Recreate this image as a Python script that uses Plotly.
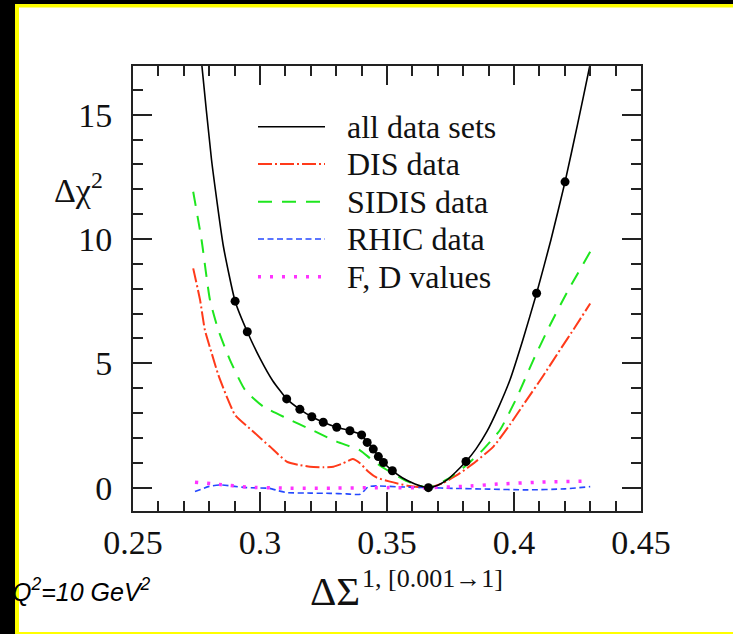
import plotly.graph_objects as go

# ---------------- data ----------------
all_x = [0.2762, 0.2769, 0.2809, 0.2856, 0.2902, 0.2950, 0.3000, 0.3050, 0.3105, 0.3157,
         0.3204, 0.3249, 0.3302, 0.3354, 0.3400, 0.3422, 0.3446, 0.3466, 0.3486, 0.3521,
         0.3560, 0.3610, 0.3663, 0.3700, 0.3735, 0.3770, 0.3811, 0.3850, 0.3893, 0.3940,
         0.3984, 0.4035, 0.4089, 0.4145, 0.4201, 0.4250, 0.4297, 0.4310]
all_y = [18.0, 17.2, 13.2, 9.7, 7.5, 6.27, 5.2, 4.3, 3.57, 3.15,
         2.85, 2.63, 2.43, 2.29, 2.12, 1.82, 1.55, 1.25, 1.01, 0.68,
         0.40, 0.15, 0.0, 0.10, 0.30, 0.62, 1.05, 1.55, 2.25, 3.25,
         4.33, 5.95, 7.82, 9.95, 12.3, 14.6, 16.9, 17.6]

dot_x = [0.2902, 0.2950, 0.3105, 0.3157, 0.3204, 0.3249, 0.3302, 0.3354, 0.3400, 0.3422,
         0.3446, 0.3466, 0.3486, 0.3521, 0.3663, 0.3811, 0.4089, 0.4201]
dot_y = [7.5, 6.27, 3.57, 3.15, 2.85, 2.63, 2.43, 2.29, 2.12, 1.82,
         1.55, 1.25, 1.01, 0.68, 0.0, 1.05, 7.82, 12.3]

dis_x = [0.2737, 0.2764, 0.2783, 0.2810, 0.2836, 0.2869, 0.2902, 0.2974, 0.3039, 0.3105,
         0.3150, 0.3197, 0.3250, 0.3289, 0.3328, 0.3365, 0.3394, 0.3427, 0.3460, 0.3512,
         0.3580, 0.3663, 0.3720, 0.3787, 0.3850, 0.3919, 0.3985, 0.4050, 0.4115, 0.4181,
         0.4240, 0.4300]
dis_y = [8.82, 7.55, 6.34, 5.40, 4.53, 3.66, 2.92, 2.25, 1.65, 1.05,
         0.92, 0.84, 0.82, 0.84, 0.98, 1.15, 0.98, 0.64, 0.40, 0.24,
         0.08, 0.0, 0.18, 0.58, 1.05, 1.65, 2.55, 3.53, 4.50, 5.54,
         6.45, 7.41]

sidis_x = [0.2737, 0.2770, 0.2803, 0.2836, 0.2882, 0.2941, 0.3013, 0.3105, 0.3204, 0.3302,
           0.3394, 0.3433, 0.3470, 0.3512, 0.3580, 0.3663, 0.3740, 0.3814, 0.3880, 0.3945,
           0.4010, 0.4076, 0.4140, 0.4207, 0.4300]
sidis_y = [11.9, 9.96, 7.55, 6.34, 5.13, 3.93, 3.26, 2.79, 2.32, 1.85,
           1.50, 1.18, 0.90, 0.64, 0.25, 0.0, 0.35, 0.91, 1.55, 2.32,
           3.60, 5.13, 6.50, 7.82, 9.49]

rhic_x = [0.2744, 0.2800, 0.2843, 0.2900, 0.2948, 0.3039, 0.3070, 0.3105, 0.3200, 0.3276,
          0.3340, 0.3394, 0.3427, 0.3460, 0.3550, 0.3663, 0.3761, 0.3900, 0.4050, 0.4200,
          0.4300]
rhic_y = [-0.16, 0.05, 0.11, 0.05, 0.0, -0.03, -0.12, -0.2, -0.22, -0.23,
          -0.25, -0.27, 0.04, 0.07, 0.03, 0.0, -0.03, -0.06, -0.09, -0.05,
          0.04]

fd_x = [0.2744, 0.2850, 0.2950, 0.3100, 0.3300, 0.3500, 0.3663, 0.3800, 0.3950, 0.4100, 0.4300]
fd_y = [0.22, 0.12, 0.02, -0.02, -0.02, 0.0, 0.0, 0.05, 0.15, 0.22, 0.26]

series_names = ["all data sets", "DIS data", "SIDIS data", "RHIC data", "F, D values"]

x_tick_vals = [0.25, 0.30, 0.35, 0.40, 0.45]
x_tick_text = ["0.25", "0.3", "0.35", "0.4", "0.45"]
y_tick_vals = [0, 5, 10, 15]
y_tick_text = ["0", "5", "10", "15"]

# ---------------- styles ----------------
W, H = 733, 634
L, R, T, B = 133, 641, 66, 511
SERIF = "Liberation Serif, Times New Roman, serif"

def pxx(p):
    return (p - L) / (R - L)

def pxy(p):
    return (B - p) / (B - T)

styles = [
    dict(color="#000000", width=1.6, dash="solid"),
    dict(color="#ff3a1a", width=2.0, dash="14px,3px,2px,3px"),
    dict(color="#1ee61e", width=2.0, dash="14px,10px"),
    dict(color="#2448ff", width=1.6, dash="6px,3.5px"),
    dict(color="#ff33ff", width=3.5, dash="3px,9px"),
]

fig = go.Figure()
series = [(dis_x, dis_y, 1), (sidis_x, sidis_y, 2), (rhic_x, rhic_y, 3),
          (fd_x, fd_y, 4), (all_x, all_y, 0)]
for xs, ys, k in series:
    fig.add_trace(go.Scatter(x=xs, y=ys, mode="lines", name=series_names[k],
                             line=dict(color=styles[k]["color"], width=styles[k]["width"],
                                       dash=styles[k]["dash"], shape="spline", smoothing=0.5),
                             showlegend=False))
fig.add_trace(go.Scatter(x=dot_x, y=dot_y, mode="markers",
                         marker=dict(color="black", size=9), showlegend=False))

axis_common = dict(showline=True, linecolor="#222", linewidth=2, mirror="allticks",
                   ticks="inside", tickcolor="#222", tickwidth=2, ticklen=19,
                   showgrid=False, zeroline=False,
                   tickfont=dict(family=SERIF, size=34, color="#111"))

fig.update_xaxes(range=[0.25, 0.45], tickvals=x_tick_vals, ticktext=x_tick_text,
                 ticklabelstandoff=0,
                 minor=dict(ticks="inside", ticklen=10, tickwidth=2, tickcolor="#222",
                            dtick=0.01, tick0=0.25, showgrid=False),
                 **axis_common)
fig.update_yaxes(range=[-0.94, 16.96], tickvals=y_tick_vals, ticktext=y_tick_text,
                 ticklabelstandoff=12,
                 minor=dict(ticks="inside", ticklen=10, tickwidth=2, tickcolor="#222",
                            dtick=1, tick0=0, showgrid=False),
                 **axis_common)

shapes = []
annotations = []

# legend drawn inside the plot
row_y = [126.7, 164, 201.7, 239, 276.7]
for i, name in enumerate(series_names):
    st = styles[i]
    shapes.append(dict(type="line", xref="paper", yref="paper",
                       x0=pxx(258), x1=pxx(325), y0=pxy(row_y[i]), y1=pxy(row_y[i]),
                       line=dict(color=st["color"], width=st["width"], dash=st["dash"])))
    annotations.append(dict(text=name, xref="paper", yref="paper", x=pxx(345), y=pxy(row_y[i]),
                            xanchor="left", yanchor="middle", showarrow=False,
                            font=dict(family=SERIF, size=32, color="#111")))

# axis titles
annotations.append(dict(text="Δχ<sup>2</sup>", xref="paper", yref="paper",
                        x=pxx(52), y=pxy(188), xanchor="left", yanchor="middle",
                        showarrow=False, font=dict(family=SERIF, size=34, color="#111")))
annotations.append(dict(text="ΔΣ", xref="paper", yref="paper",
                        x=pxx(308), y=pxy(616), xanchor="left", yanchor="bottom",
                        showarrow=False, font=dict(family=SERIF, size=41, color="#111")))
annotations.append(dict(text="1, [0.001→1]", xref="paper", yref="paper",
                        x=pxx(360), y=pxy(595), xanchor="left", yanchor="bottom",
                        showarrow=False, font=dict(family=SERIF, size=26, color="#111")))
annotations.append(dict(text="<i>Q<sup>2</sup>=10 GeV<sup>2</sup></i>", xref="paper", yref="paper",
                        x=pxx(10), y=pxy(590), xanchor="left", yanchor="middle",
                        showarrow=False,
                        font=dict(family="Liberation Sans, Arial, sans-serif", size=25, color="#000")))

# frame around the picture
def rect(x0, y0, x1, y1, color):
    return dict(type="rect", xref="paper", yref="paper", layer="above",
                x0=pxx(x0), x1=pxx(x1), y0=pxy(y0), y1=pxy(y1),
                fillcolor=color, line=dict(width=0))

shapes += [
    rect(0, 0, 15, 634, "#000000"),
    rect(0, 0, 733, 4, "#000000"),
    rect(15, 4, 19, 634, "#ffff00"),
    rect(15, 4, 733, 7.5, "#ffff00"),
    rect(15, 632, 733, 634, "#ffff00"),
]

fig.update_layout(width=W, height=H, margin=dict(l=L, r=W - R, t=T, b=H - B),
                  paper_bgcolor="white", plot_bgcolor="white",
                  shapes=shapes, annotations=annotations, showlegend=False)

fig.write_html("out.html")
